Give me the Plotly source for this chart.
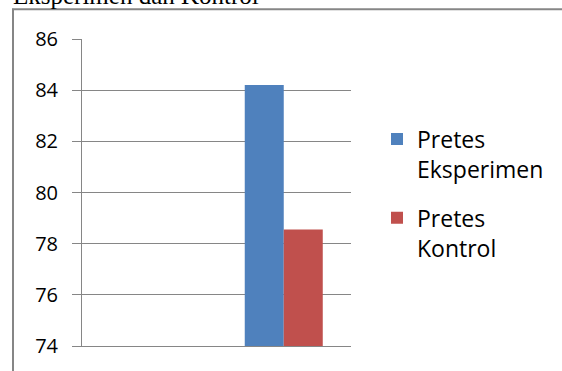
import plotly.graph_objects as go

categories = ["", "Pretes"]
series_names = ["Pretes<br>Eksperimen", "Pretes<br>Kontrol"]
series_values = [[None, 84.2], [None, 78.55]]
series_colors = ["#4F81BD", "#C0504D"]
y_ticks = [74, 76, 78, 80, 82, 84, 86]

W, H = 562, 371
L, R, T, B = 82, 211, 39, 23
pw, ph = W - L - R, H - T - B

fig = go.Figure()
for i, (name, vals, col) in enumerate(zip(series_names, series_values, series_colors)):
    fig.add_trace(go.Bar(x=categories, y=vals, name=name, legendgroup=f"g{i}",
                         marker=dict(color=col, line=dict(width=0))))

font = "Open Sans, Liberation Sans, sans-serif"
fig.update_layout(
    width=W, height=H,
    margin=dict(l=L, r=R, t=T, b=B),
    paper_bgcolor="white", plot_bgcolor="white",
    barmode="group", bargap=0.42, bargroupgap=0,
    showlegend=True,
    legend=dict(x=(377 - L) / pw, y=1 - (118 - T) / ph, xanchor="left", yanchor="top",
                font=dict(family=font, size=23, color="black"),
                valign="top", tracegroupgap=16, itemwidth=30, bgcolor="rgba(0,0,0,0)"),
    xaxis=dict(type="category", categoryarray=categories, range=[-0.5, 1.5],
               showticklabels=False, ticks="", showgrid=False, zeroline=False,
               showline=True, linecolor="#868686", linewidth=1),
    yaxis=dict(range=[74, 86], tickvals=y_ticks, ticks="outside", ticklen=9,
               tickcolor="#868686", showline=True, linecolor="#868686", linewidth=1,
               showgrid=True, gridcolor="#868686", gridwidth=1, zeroline=False,
               tickfont=dict(family=font, size=20, color="black"), ticklabelstandoff=10),
)

def px_x(v):
    return (v - L) / pw

def px_y(v):
    return 1 - (v - T) / ph

# outer chart border (only top and left edges are visible in the frame)
fig.add_shape(type="line", xref="paper", yref="paper",
              x0=px_x(13), x1=px_x(13), y0=px_y(H + 5), y1=px_y(8.5),
              line=dict(color="#868686", width=2), layer="below")
fig.add_shape(type="line", xref="paper", yref="paper",
              x0=px_x(12), x1=px_x(W + 5), y0=px_y(9), y1=px_y(9),
              line=dict(color="#868686", width=2), layer="below")

# partially visible heading above the chart
fig.add_annotation(text="Eksperimen dan Kontrol", xref="paper", yref="paper",
                   x=px_x(11), y=px_y(11), xanchor="left", yanchor="bottom",
                   showarrow=False, font=dict(family="Liberation Serif, serif", size=25, color="black"))

fig.write_html("out.html")
